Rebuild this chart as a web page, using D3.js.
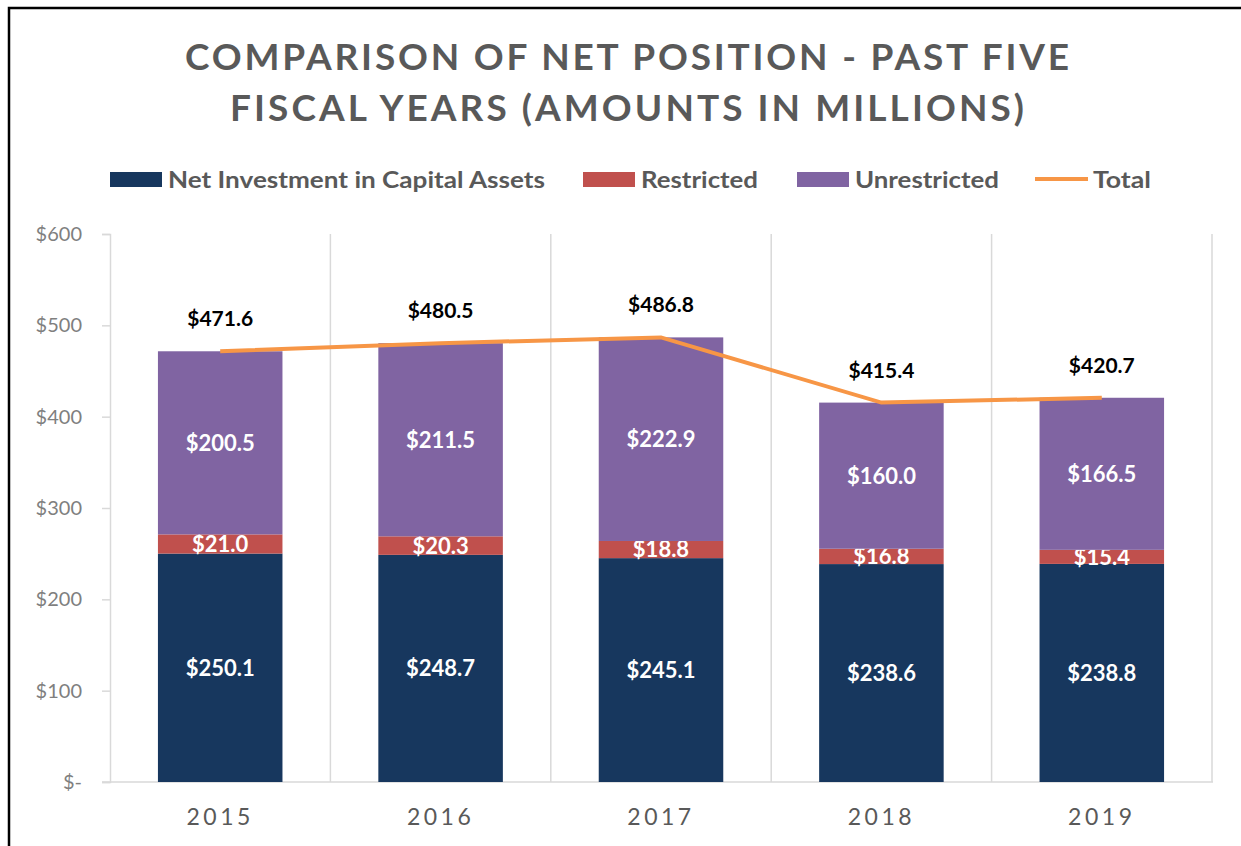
<!DOCTYPE html>
<html>
<head>
<meta charset="utf-8">
<script src="https://cdnjs.cloudflare.com/ajax/libs/d3/7.8.5/d3.min.js"></script>
<style>
  html, body { margin: 0; padding: 0; background: #fff; }
  svg { display: block; }
</style>
</head>
<body>
<svg id="chart" width="1241" height="846"></svg>
<script>
// values in millions
const years = ["2015", "2016", "2017", "2018", "2019"];
const netInvestment = [250.1, 248.7, 245.1, 238.6, 238.8];
const restricted = [21.0, 20.3, 18.8, 16.8, 15.4];
const unrestricted = [200.5, 211.5, 222.9, 160.0, 166.5];
const totals = [471.6, 480.5, 486.8, 415.4, 420.7];
const yTicks = [0, 100, 200, 300, 400, 500, 600];

const seriesNames = ["Net Investment in Capital Assets", "Restricted", "Unrestricted"];
const colors = ["#17375E", "#C0504D", "#8064A2"];
const lineColor = "#F79646";

const svg = d3.select("#chart");
const font = "Lato, 'Open Sans', sans-serif";

// frame
svg.append("path")
  .attr("d", "M9,846 L9,8 L1241,8")
  .attr("fill", "none")
  .attr("stroke", "#000")
  .attr("stroke-width", 2.5);

// title
const title = svg.append("g")
  .attr("font-family", font)
  .attr("font-weight", "bold")
  .attr("font-size", 37)
  .attr("fill", "#595959")
  .attr("text-anchor", "middle");
title.append("text").attr("x", 627).attr("y", 70)
  .attr("textLength", 884).attr("lengthAdjust", "spacing")
  .text("COMPARISON  OF  NET  POSITION  - PAST  FIVE");
title.append("text").attr("x", 627).attr("y", 121)
  .attr("textLength", 794).attr("lengthAdjust", "spacing")
  .text("FISCAL  YEARS  (AMOUNTS  IN  MILLIONS)");

// scales
const x = d3.scaleBand().domain(years).range([110, 1212]).padding(0);
const y = d3.scaleLinear().domain([0, 600]).range([782, 234]);
const barW = x.bandwidth() * 0.565;

// gridlines between categories
const bounds = years.map(d => x(d)).concat([x.range()[1]]);
svg.append("g").selectAll("line").data(bounds.slice(1)).join("line")
  .attr("x1", d => d).attr("x2", d => d)
  .attr("y1", y(600)).attr("y2", y(0))
  .attr("stroke", "#d9d9d9").attr("stroke-width", 1.5);

// y axis
const yAxis = svg.append("g")
  .attr("transform", "translate(110,0)")
  .call(d3.axisLeft(y).tickValues(yTicks).tickSize(8).tickPadding(20)
    .tickFormat(d => d === 0 ? "$-" : "$" + d));
yAxis.select(".domain").attr("stroke", "#d9d9d9").attr("stroke-width", 1.5);
yAxis.selectAll(".tick line").attr("stroke", "#d9d9d9").attr("stroke-width", 1.5);
yAxis.selectAll(".tick text")
  .attr("font-family", font).attr("font-size", 20).attr("fill", "#7f7f7f");

// baseline
svg.append("line")
  .attr("x1", 102).attr("x2", 1213)
  .attr("y1", y(0)).attr("y2", y(0))
  .attr("stroke", "#d9d9d9").attr("stroke-width", 1.5);

// x labels
svg.append("g").selectAll("text").data(years).join("text")
  .attr("x", d => x(d) + x.bandwidth() / 2)
  .attr("y", 825)
  .attr("text-anchor", "middle")
  .attr("font-family", font).attr("font-size", 23)
  .attr("letter-spacing", 3.5)
  .attr("fill", "#595959")
  .text(d => d);

// stacked bars
const rows = years.map((yr, i) => ({
  year: yr, s0: netInvestment[i], s1: restricted[i], s2: unrestricted[i]
}));
const stack = d3.stack().keys(["s0", "s1", "s2"])(rows);

const layers = svg.append("g").selectAll("g").data(stack).join("g")
  .attr("fill", (d, i) => colors[i]);
layers.selectAll("rect").data(d => d).join("rect")
  .attr("x", d => x(d.data.year) + (x.bandwidth() - barW) / 2)
  .attr("width", barW)
  .attr("y", d => y(d[1]))
  .attr("height", d => y(d[0]) - y(d[1]));

// segment labels
layers.selectAll("text").data(d => d.map(v => ({ v, key: d.key }))).join("text")
  .attr("x", d => x(d.v.data.year) + x.bandwidth() / 2)
  .attr("y", d => y((d.v[0] + d.v[1]) / 2))
  .attr("dy", "0.36em")
  .attr("text-anchor", "middle")
  .attr("font-family", font).attr("font-weight", "bold").attr("font-size", 22)
  .attr("fill", "#fff")
  .text(d => "$" + (d.v[1] - d.v[0]).toFixed(1));

// total line
const line = d3.line()
  .x((d, i) => x(years[i]) + x.bandwidth() / 2)
  .y(d => y(d));
svg.append("path").datum(totals)
  .attr("d", line)
  .attr("fill", "none")
  .attr("stroke", lineColor)
  .attr("stroke-width", 4);

svg.append("g").selectAll("text").data(totals).join("text")
  .attr("x", (d, i) => x(years[i]) + x.bandwidth() / 2)
  .attr("y", d => y(d) - 25)
  .attr("text-anchor", "middle")
  .attr("font-family", font).attr("font-weight", "bold").attr("font-size", 21)
  .attr("fill", "#000")
  .text(d => "$" + d.toFixed(1));

// legend
const legend = svg.append("g")
  .attr("font-family", font).attr("font-weight", "bold").attr("font-size", 23)
  .attr("fill", "#595959");
const legendX = [110, 583, 797, 1035];
const legendW = [377, 117, 144, 58];
const legendItems = seriesNames.concat(["Total"]);
legendItems.forEach((name, i) => {
  const g = legend.append("g").attr("transform", `translate(${legendX[i]},0)`);
  if (i < 3) {
    g.append("rect").attr("x", 0).attr("y", 172).attr("width", 52).attr("height", 15)
      .attr("fill", colors[i]);
  } else {
    g.append("line").attr("x1", 0).attr("x2", 53).attr("y1", 179).attr("y2", 179)
      .attr("stroke", lineColor).attr("stroke-width", 4);
  }
  g.append("text").attr("x", 58).attr("y", 188)
    .attr("textLength", legendW[i]).attr("lengthAdjust", "spacingAndGlyphs")
    .text(name);
});
</script>
</body>
</html>
